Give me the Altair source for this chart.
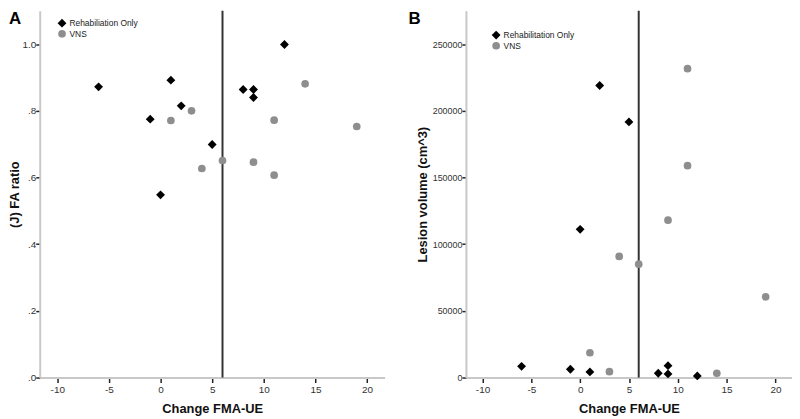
import altair as alt
import pandas as pd

# ---- data ----
x_ticks = [-10, -5, 0, 5, 10, 15, 20]
x_domain = [-11.7, 21.7]
ref_line_x = [6]

groups_a = ["Rehabiliation Only", "VNS"]
groups_b = ["Rehabilitation Only", "VNS"]

a_rehab_x = [-6, 1, 2, -1, 5, 0, 12, 8, 9, 9]
a_rehab_y = [0.872, 0.892, 0.815, 0.775, 0.699, 0.548, 0.999, 0.864, 0.864, 0.840]
a_vns_x = [14, 3, 1, 11, 19, 6, 4, 9, 11]
a_vns_y = [0.881, 0.800, 0.771, 0.772, 0.753, 0.651, 0.627, 0.646, 0.607]

b_rehab_x = [2, 5, 0, -6, -1, 1, 8, 9, 9, 12]
b_rehab_y = [219000, 191700, 111100, 8400, 6200, 4200, 3200, 2700, 8900, 1200]
b_vns_x = [11, 11, 9, 4, 6, 19, 1, 3, 14]
b_vns_y = [231600, 158900, 118000, 90800, 85000, 60500, 18600, 4400, 3200]

a_yticks = [0, 0.2, 0.4, 0.6, 0.8, 1.0]
b_yticks = [0, 50000, 100000, 150000, 200000, 250000]

colors = ["#000000", "#8e8e8e"]
shapes = ["diamond", "circle"]
sizes = [80, 60]


def frame(xs, ys, groups):
    return pd.DataFrame({
        "x": list(xs[0]) + list(xs[1]),
        "y": list(ys[0]) + list(ys[1]),
        "group": [groups[0]] * len(xs[0]) + [groups[1]] * len(xs[1]),
    })


def panel(df, groups, letter, letter_x, ytitle, ydomain, yticks, ylabel_expr, lx, ly, width,
          ylabel_size, title_pad):
    legend = alt.Legend(title=None, orient="none", legendX=lx, legendY=ly,
                        labelFontSize=8.5, labelColor="#222", symbolSize=36,
                        rowPadding=2, padding=0, symbolStrokeWidth=0,
                        labelOffset=3)
    pts = alt.Chart(df).mark_point(filled=True, opacity=1).encode(
        x=alt.X("x:Q", scale=alt.Scale(domain=x_domain, nice=False, zero=False),
                axis=alt.Axis(values=x_ticks, title="Change FMA-UE", labelPadding=2,
                              titlePadding=8, labelExpr="'' + datum.value")),
        y=alt.Y("y:Q", scale=alt.Scale(domain=ydomain, nice=False, zero=False),
                axis=alt.Axis(values=yticks, labelExpr=ylabel_expr, title=ytitle,
                              labelPadding=0, tickSize=4, titlePadding=title_pad,
                              labelFontSize=ylabel_size)),
        color=alt.Color("group:N", scale=alt.Scale(domain=groups, range=colors), legend=legend),
        shape=alt.Shape("group:N", scale=alt.Scale(domain=groups, range=shapes), legend=legend),
        size=alt.Size("group:N", scale=alt.Scale(domain=groups, range=sizes), legend=None),
    )
    rule = alt.Chart(pd.DataFrame({"x": ref_line_x})).mark_rule(
        color="#333333", strokeWidth=2).encode(x="x:Q")
    lab = alt.Chart(pd.DataFrame({"t": [letter]})).mark_text(
        align="left", baseline="top", fontSize=17, fontWeight="bold", color="#000"
    ).encode(x=alt.value(letter_x), y=alt.value(0), text="t:N")
    return alt.layer(rule, pts, lab).properties(width=width, height=370)


df_a = frame((a_rehab_x, a_vns_x), (a_rehab_y, a_vns_y), groups_a)
df_b = frame((b_rehab_x, b_vns_x), (b_rehab_y, b_vns_y), groups_b)

label_a = "datum.value >= 1 ? format(datum.value, '.1f') : slice(format(datum.value, '.1f'), 1)"
label_b = "format(datum.value, 'd')"

chart_a = panel(df_a, groups_a, "A", -31, "(J) FA ratio", [0, 1.10], a_yticks, label_a,
                18, 8, 348, 10, 1)
chart_b = panel(df_b, groups_b, "B", -58, "Lesion volume (cm^3)", [0, 275000], b_yticks, label_b,
                26, 20, 329, 9, 3)

chart = alt.hconcat(chart_a, chart_b, spacing=24).resolve_scale(
    x="independent", y="independent", color="independent", shape="independent", size="independent"
).configure(font="Liberation Sans").configure_view(stroke=None).configure_axis(
    grid=False, domainColor="#c8c8c8", domainWidth=2, tickColor="#222222", tickWidth=1.5,
    tickSize=5, labelFontSize=10, labelColor="#333333", titleFontSize=13,
    titleFontWeight="bold", titleColor="#111111"
).properties(padding={"left": 0, "top": 0, "right": 0, "bottom": 0})

chart.save("out.html", embed_options={"renderer": "svg", "actions": False})
